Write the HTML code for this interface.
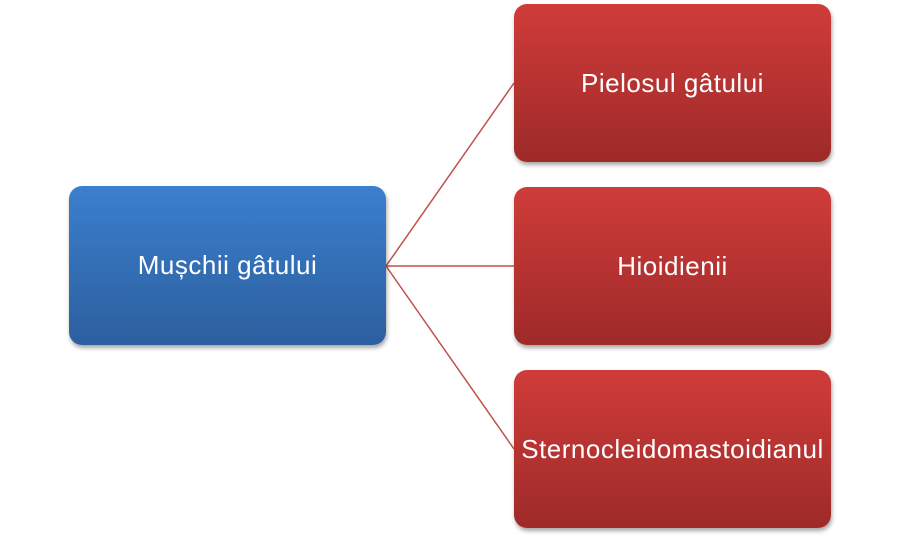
<!DOCTYPE html>
<html><head><meta charset="utf-8"><style>
body{margin:0;width:900px;height:539px;background:#fff;position:relative;overflow:hidden;font-family:"Liberation Sans",sans-serif}
.b{position:absolute;border-radius:13px;color:#fff;display:flex;align-items:center;justify-content:center;font-size:26px;letter-spacing:0.5px;box-shadow:1px 3px 4px rgba(0,0,0,0.35)}
.blue{background:linear-gradient(#3b7fce,#2c5f9e)}
.red{background:linear-gradient(#cf3c3a,#9e2a29)}
</style></head><body>
<svg width="900" height="539" style="position:absolute;left:0;top:0">
<g stroke="#c0504d" stroke-width="1.5" fill="none">
<line x1="386" y1="266" x2="514" y2="83"/>
<line x1="386" y1="266" x2="514" y2="266"/>
<line x1="386" y1="266" x2="514" y2="449"/>
</g></svg>
<div class="b blue" style="left:69px;top:186px;width:317px;height:159px">Mușchii gâtului</div>
<div class="b red" style="left:514px;top:4px;width:317px;height:158px">Pielosul gâtului</div>
<div class="b red" style="left:514px;top:187px;width:317px;height:158px">Hioidienii</div>
<div class="b red" style="left:514px;top:370px;width:317px;height:158px">Sternocleidomastoidianul</div>
</body></html>
